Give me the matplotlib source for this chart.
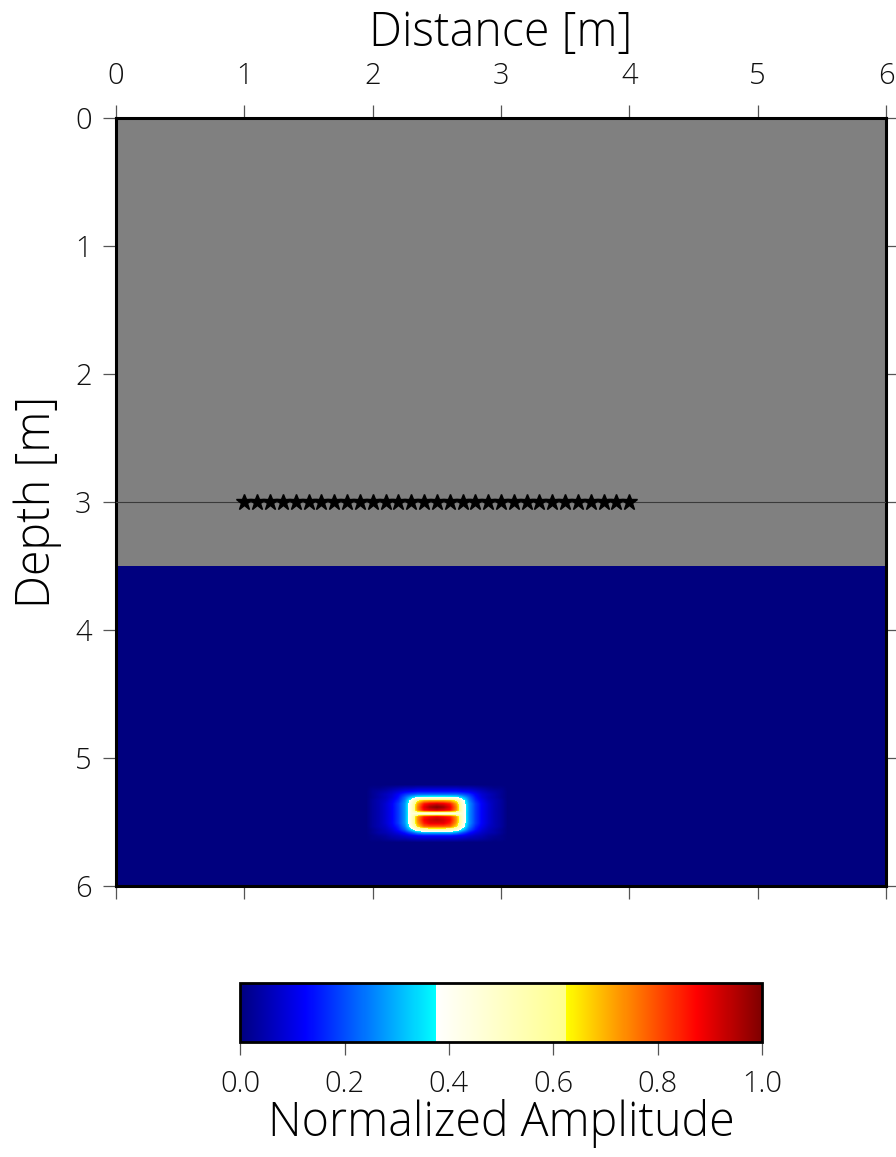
import numpy as np
import matplotlib.pyplot as plt
from matplotlib.colors import LinearSegmentedColormap

plt.rcParams['font.family'] = ['Open Sans', 'DejaVu Sans']
plt.rcParams['font.weight'] = 'light'
plt.rcParams['axes.labelweight'] = 'light'

# Model geometry [m]
x_limits = [0.0, 6.0]
depth_limits = [6.0, 0.0]
air_top = 0.0
air_bottom = 3.5
rx_depth = 3.0
rx_x = [1.0, 1.1, 1.2, 1.3, 1.4, 1.5, 1.6, 1.7, 1.8, 1.9, 2.0,
        2.1, 2.2, 2.3, 2.4, 2.5, 2.6, 2.7, 2.8, 2.9, 3.0,
        3.1, 3.2, 3.3, 3.4, 3.5, 3.6, 3.7, 3.8, 3.9, 4.0]

# Normalized amplitude below the interface (background is zero)
ground_amp = [[0.0]]

# Amplitude around the target; columns x = 1.95 ... 3.05 (step 0.05),
# rows depth = 5.2125 ... 5.6625 (step 0.025)
target_x_edges = [1.925, 3.075]
target_z_edges = [5.200, 5.675]
target_amp = [
    [0, 0, 0, 0, 0, 0, 0, 0, 0, 0, 0, 0, 0, 0, 0, 0, 0, 0, 0, 0, 0, 0, 0],
    [0, .01, .01, .02, .03, .04, .05, .05, .06, .06, .06, .06, .06, .06, .06, .05, .05, .04, .03, .02, .01, .01, 0],
    [0, .02, .03, .04, .06, .08, .10, .11, .12, .12, .12, .12, .12, .12, .12, .11, .10, .08, .06, .04, .03, .02, 0],
    [0, .02, .04, .06, .08, .12, .17, .20, .22, .22, .22, .22, .22, .22, .22, .20, .17, .12, .08, .06, .04, .02, 0],
    [0, .02, .04, .06, .09, .14, .22, .32, .40, .42, .43, .43, .43, .42, .40, .32, .22, .14, .09, .06, .04, .02, 0],
    [0, .03, .05, .07, .11, .16, .25, .43, .62, .70, .72, .72, .72, .70, .62, .43, .25, .16, .11, .07, .05, .03, 0],
    [0, .03, .05, .08, .12, .18, .27, .46, .72, .86, .90, .92, .90, .86, .72, .46, .27, .18, .12, .08, .05, .03, 0],
    [0, .03, .05, .08, .12, .18, .27, .47, .75, .90, .97, 1.0, .97, .90, .75, .47, .27, .18, .12, .08, .05, .03, 0],
    [0, .03, .05, .08, .12, .18, .27, .47, .74, .87, .90, .92, .90, .87, .74, .47, .27, .18, .12, .08, .05, .03, 0],
    [0, .03, .05, .08, .12, .18, .27, .46, .45, .43, .42, .42, .42, .43, .45, .46, .27, .18, .12, .08, .05, .03, 0],
    [0, .03, .05, .08, .12, .18, .27, .47, .73, .85, .88, .90, .88, .85, .73, .47, .27, .18, .12, .08, .05, .03, 0],
    [0, .03, .05, .08, .12, .18, .27, .47, .74, .88, .92, .94, .92, .88, .74, .47, .27, .18, .12, .08, .05, .03, 0],
    [0, .03, .05, .08, .12, .18, .27, .46, .72, .85, .90, .90, .90, .85, .72, .46, .27, .18, .12, .08, .05, .03, 0],
    [0, .03, .05, .07, .11, .16, .25, .43, .66, .78, .80, .80, .80, .78, .66, .43, .25, .16, .11, .07, .05, .03, 0],
    [0, .02, .04, .06, .09, .14, .21, .34, .48, .54, .55, .55, .55, .54, .48, .34, .21, .14, .09, .06, .04, .02, 0],
    [0, .02, .04, .05, .07, .10, .14, .20, .27, .30, .30, .30, .30, .30, .27, .20, .14, .10, .07, .05, .04, .02, 0],
    [0, .01, .02, .03, .05, .06, .08, .10, .11, .12, .12, .12, .12, .12, .11, .10, .08, .06, .05, .03, .02, .01, 0],
    [0, .01, .01, .02, .03, .04, .04, .05, .06, .06, .06, .06, .06, .06, .06, .05, .04, .04, .03, .02, .01, .01, 0],
    [0, 0, 0, 0, 0, 0, 0, 0, 0, 0, 0, 0, 0, 0, 0, 0, 0, 0, 0, 0, 0, 0, 0],
]

cbar_ticks = [0.0, 0.2, 0.4, 0.6, 0.8, 1.0]

# jet-like map with a white/pale-yellow middle band
amp_cmap = LinearSegmentedColormap('amp', {
    'red':   [(0.0, 0.0, 0.0), (0.125, 0.0, 0.0), (0.375, 0.0, 1.0),
              (0.625, 1.0, 1.0), (0.875, 1.0, 1.0), (1.0, 0.5, 0.5)],
    'green': [(0.0, 0.0, 0.0), (0.125, 0.0, 0.0), (0.375, 1.0, 1.0),
              (0.625, 1.0, 1.0), (0.875, 0.0, 0.0), (1.0, 0.0, 0.0)],
    'blue':  [(0.0, 0.5, 0.5), (0.125, 1.0, 1.0), (0.375, 1.0, 1.0),
              (0.625, 0.55, 0.0), (0.875, 0.0, 0.0), (1.0, 0.0, 0.0)],
}, N=512)

fig = plt.figure(figsize=(8.96, 11.57), dpi=100)
ax = fig.add_axes([0.1295, 0.2342, 0.8593, 0.6638])

ax.imshow(ground_amp, cmap=amp_cmap, vmin=0, vmax=1, aspect='auto',
          extent=(x_limits[0], x_limits[1], depth_limits[0], air_bottom), zorder=0)
im = ax.imshow(target_amp, cmap=amp_cmap, vmin=0, vmax=1, aspect='auto',
               interpolation='bilinear', interpolation_stage='data', origin='upper',
               extent=(target_x_edges[0], target_x_edges[1], target_z_edges[1], target_z_edges[0]),
               zorder=1)
ax.axhspan(air_top, air_bottom, color='#808080', lw=0, zorder=2)

ax.axhline(rx_depth, color='#3a3a3a', lw=0.8, zorder=3)
ax.plot(rx_x, [rx_depth] * len(rx_x), ls='none', marker='*', ms=12,
        color='black', zorder=4)

ax.set_xlim(x_limits)
ax.set_ylim(depth_limits)
ax.set_xticks(range(7))
ax.set_yticks(range(7))
ax.xaxis.set_ticks_position('both')
ax.yaxis.set_ticks_position('both')
ax.xaxis.set_label_position('top')
ax.tick_params(axis='x', labeltop=True, labelbottom=False, pad=10)
ax.tick_params(axis='y', pad=8)
ax.tick_params(direction='out', length=9.5, width=0.9, color='#555555',
               labelsize=21, labelcolor='#111111')
for s in ax.spines.values():
    s.set_linewidth(2.2)
ax.set_xlabel('Distance [m]', fontsize=33.5, labelpad=11)
ax.set_ylabel('Depth [m]', fontsize=33.5, labelpad=9)

cax = fig.add_axes([0.268, 0.0994, 0.5826, 0.051])
cb = fig.colorbar(im, cax=cax, orientation='horizontal', ticks=cbar_ticks)
cb.outline.set_linewidth(2.0)
cax.tick_params(direction='out', length=9.5, width=0.9, color='#555555',
                labelsize=21, labelcolor='#111111', pad=10)
cax.set_xticklabels([f'{t:.1f}' for t in cbar_ticks])
cb.set_label('Normalized Amplitude', fontsize=33.5, labelpad=0)

fig.savefig('out.png', dpi=100)
